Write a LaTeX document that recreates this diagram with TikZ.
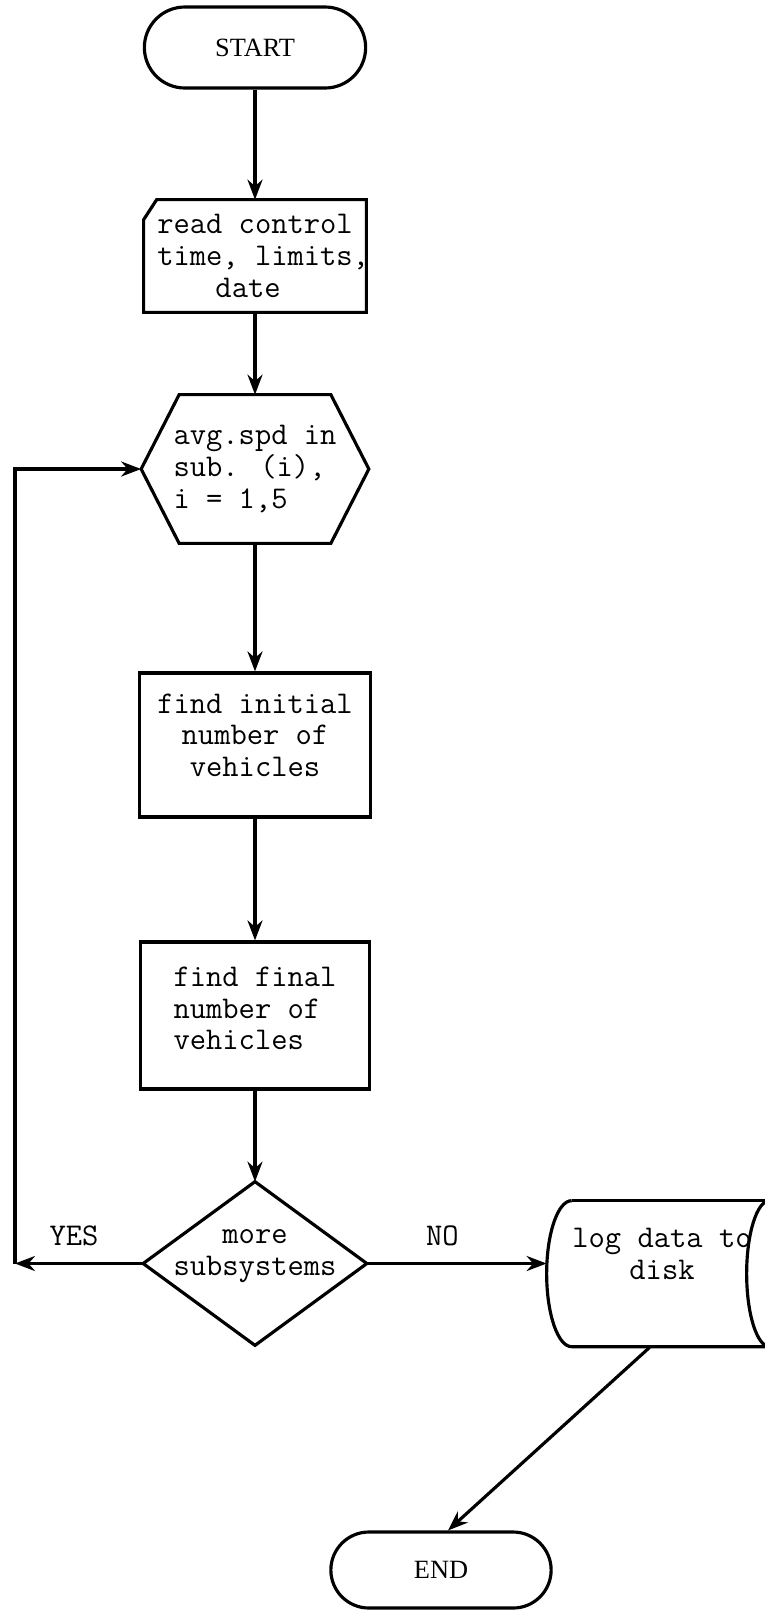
\documentclass[tikz,border=0pt]{standalone}
\usepackage{fontspec}
\newfontfamily\termfont{Liberation Serif}
\newcommand{\typed}{\ttfamily\addfontfeatures{FakeBold=1.2}\fontsize{18}{18}\selectfont}
\usetikzlibrary{arrows.meta,shapes.misc}

\begin{document}
\begin{tikzpicture}[
  term/.style      = {draw, line width=1.8pt, rounded rectangle,
                      font=\termfont\fontsize{15}{18}\selectfont},
  frame/.style     = {inner sep=0pt, font=\typed},
                       % no ink: the outline is drawn by hand from its anchors
  proc/.style      = {draw, line width=1.8pt, inner sep=0pt, font=\typed},
  outline/.style   = {line width=1.8pt, line join=miter},
  arrow/.style     = {line width=1.8pt, -{Stealth[length=0.4cm,width=0.3cm]}},
  lbl/.style       = {font=\typed, inner sep=0pt},
]
  \useasboundingbox (0,0) rectangle (15.3,-32.2);
  \clip (0,0) rectangle (15.3,-32.2);

  \node[term, minimum width=4.66cm, minimum height=1.62cm] (start) at (5.1,-0.95) {START};
  \node[frame, minimum width=4.44cm, minimum height=2.24cm, align=left] (read) at (5.1,-5.12)
        {read control\\time, limits\rlap{,}\\\hspace*{1.84em}date};
  \node[frame, minimum width=4.54cm, minimum height=2.96cm, align=left] (spd) at (5.1,-9.38)
        {avg.spd in\\sub. (i),\\i = 1,5};
  \node[proc, minimum width=4.62cm, minimum height=2.88cm, align=center, text depth=0.4cm] (init) at (5.1,-14.9)
        {find initial\\number of\\vehicles};
  \node[proc, minimum width=4.58cm, minimum height=2.94cm, align=left, text depth=0.28cm] (final) at (5.1,-20.31)
        {find final\\number of\\vehicles};
  \node[frame, minimum width=4.46cm, minimum height=3.26cm, align=center, text depth=0.44cm] (dec) at (5.1,-25.27)
        {more\\subsystems};
  \node[frame, minimum width=4.6cm, minimum height=2.92cm, align=center, text depth=0.8cm] (log) at (13.24,-25.48)
        {log data to\\disk};
  \node[term, minimum width=4.64cm, minimum height=1.52cm] (stop) at (8.82,-31.4) {END};
  \coordinate (back) at (0.3,-25.27);

  % outlines of the nodes that have no shape of their own
  \draw[outline] ([yshift=-0.4cm]read.north west) -- ([xshift=0.26cm]read.north west)
        -- (read.north east) -- (read.south east) -- (read.south west) -- cycle;
  \draw[outline] (spd.west) -- ([xshift=0.76cm]spd.north west) -- ([xshift=-0.76cm]spd.north east)
        -- (spd.east) -- ([xshift=-0.76cm]spd.south east) -- ([xshift=0.76cm]spd.south west) -- cycle;
  \draw[outline] (dec.north) -- (dec.east) -- (dec.south) -- (dec.west) -- cycle;
  % disk: concave left end, the right end cut by the page edge
  \draw[outline] ([xshift=0.5cm]log.north west) -- ++(4.6cm,0);
  \draw[outline] ([xshift=0.5cm]log.north west)
        arc[start angle=90, end angle=270, x radius=0.5cm, y radius=1.46cm] -- ++(4.6cm,0);
  \draw[outline] ([xshift=4.46cm]log.north west)
        arc[start angle=90, end angle=270, x radius=0.46cm, y radius=1.46cm];

  \draw[arrow] (start.south) -- (read.north);
  \draw[arrow] (read.south) -- (spd.north);
  \draw[arrow] (spd.south) -- (init.north);
  \draw[arrow] (init.south) -- (final.north);
  \draw[arrow] (final.south) -- (dec.north);
  \draw[arrow] (dec.west) -- (back) node[lbl, pos=0.54, above=0.32cm] {YES};
  \draw[arrow] (back) |- (spd.west);
  \draw[arrow] (dec.east) -- (dec.east -| log.west) node[lbl, pos=0.42, above=0.32cm] {NO};
  \draw[arrow] ([xshift=2.06cm]log.south west) -- ([xshift=0.14cm]stop.north);
\end{tikzpicture}
\end{document}
